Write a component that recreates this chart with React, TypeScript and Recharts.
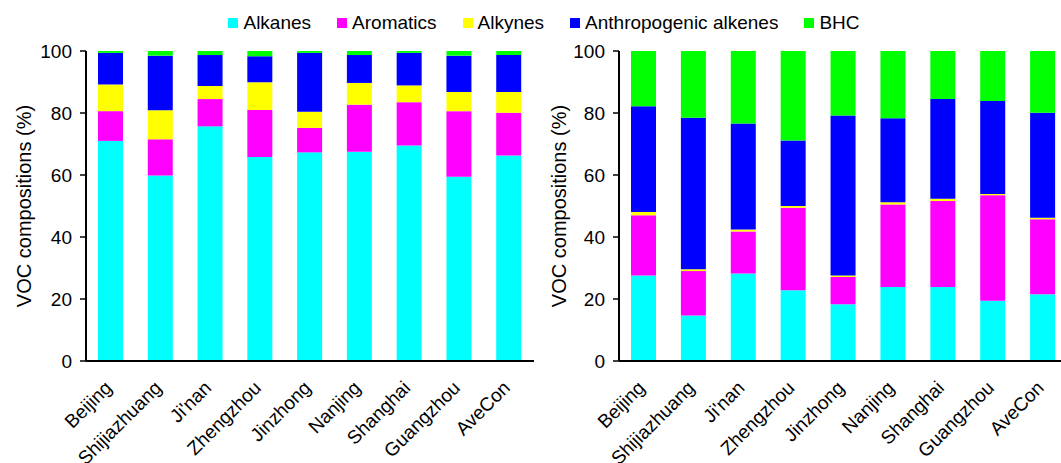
import React from "react";
import { BarChart, Bar, XAxis, YAxis, Legend } from "recharts";

const cities = ["Beijing", "Shijiazhuang", "Ji'nan", "Zhengzhou", "Jinzhong", "Nanjing", "Shanghai", "Guangzhou", "AveCon"];

const seriesNames = ["Alkanes", "Aromatics", "Alkynes", "Anthropogenic alkenes", "BHC"];
const seriesKeys = ["alkanes", "aromatics", "alkynes", "alkenes", "bhc"];
const seriesColors = ["#00FFFF", "#FF00FF", "#FFFF00", "#0000FF", "#00FF00"];

// Left panel
const alkanesA = [71.0, 59.8, 75.7, 65.8, 67.3, 67.5, 69.5, 59.4, 66.3];
const aromaticsA = [9.6, 11.7, 8.8, 15.2, 7.9, 15.2, 14.0, 21.2, 13.8];
const alkynesA = [8.6, 9.4, 4.2, 8.9, 5.2, 7.0, 5.4, 6.2, 6.7];
const alkenesA = [10.2, 17.6, 10.0, 8.4, 19.0, 9.0, 10.5, 11.7, 11.9];
const bhcA = [0.6, 1.5, 1.3, 1.7, 0.6, 1.3, 0.6, 1.5, 1.3];

// Right panel
const alkanesB = [27.6, 14.7, 28.2, 22.8, 18.3, 23.9, 23.9, 19.4, 21.5];
const aromaticsB = [19.4, 14.3, 13.6, 26.6, 8.8, 26.6, 27.7, 34.1, 24.2];
const alkynesB = [1.1, 0.6, 0.6, 0.6, 0.5, 0.7, 0.7, 0.4, 0.5];
const alkenesB = [34.1, 48.9, 34.2, 21.1, 51.6, 27.1, 32.2, 30.0, 33.9];
const bhcB = [17.8, 21.5, 23.4, 28.9, 20.8, 21.7, 15.5, 16.1, 19.9];

const yTicks = [0, 20, 40, 60, 80, 100];
const yLabel = "VOC compositions (%)";

const FONT = '"Liberation Sans", Arial, sans-serif';

const build = (a: number[], b: number[], c: number[], d: number[], e: number[]) =>
  cities.map((city, i) => ({ city, alkanes: a[i], aromatics: b[i], alkynes: c[i], alkenes: d[i], bhc: e[i] }));

const dataA = build(alkanesA, aromaticsA, alkynesA, alkenesA, bhcA);
const dataB = build(alkanesB, aromaticsB, alkynesB, alkenesB, bhcB);

const XTick = (props: any) => {
  const { x, y, payload } = props;
  return (
    <g transform={`translate(${x + 2},${y + 20}) rotate(-45)`}>
      <text x={0} y={0} textAnchor="end" fontSize={19} fill="#000" fontFamily={FONT}>
        {payload.value}
      </text>
    </g>
  );
};

const makeYLabel = (dxShift: number) => (props: any) => {
  const vb = props.viewBox || {};
  const cx = (vb.x ?? 0) + dxShift;
  const cy = (vb.y ?? 0) + (vb.height ?? 0) / 2;
  return (
    <text
      x={cx}
      y={cy}
      transform={`rotate(-90, ${cx}, ${cy})`}
      textAnchor="middle"
      dominantBaseline="central"
      fontSize={20}
      fill="#000"
      fontFamily={FONT}
    >
      {yLabel}
    </text>
  );
};

const LegendContent = () => (
  <div
    style={{
      display: "flex",
      justifyContent: "center",
      alignItems: "center",
      gap: 26,
      fontFamily: FONT,
      fontSize: 19,
      color: "#000",
    }}
  >
    {seriesNames.map((n, i) => (
      <div key={n} style={{ display: "flex", alignItems: "center" }}>
        <span style={{ display: "inline-block", width: 10, height: 10, background: seriesColors[i], marginRight: 5 }} />
        <span>{n}</span>
      </div>
    ))}
  </div>
);

const Panel = ({ data, width, showLegend, labelShift }: any) => (
  <BarChart
    width={width}
    height={463}
    data={data}
    margin={{ top: 51, right: 6, left: 26, bottom: 22 }}
    barCategoryGap="50%"
  >
    <XAxis
      dataKey="city"
      height={80}
      interval={0}
      tickLine={false}
      tick={<XTick />}
      axisLine={{ stroke: "#000", strokeWidth: 2 }}
    />
    <XAxis xAxisId="top" orientation="top" height={0} tick={false} tickLine={false} axisLine={{ stroke: "#333", strokeWidth: 1.5 }} />
    <YAxis
      domain={[0, 100]}
      ticks={yTicks}
      width={60}
      tickSize={6}
      tickMargin={8}
      interval={0}
      tick={{ fontSize: 19, fill: "#000", fontFamily: FONT }}
      tickLine={{ stroke: "#000", strokeWidth: 1.5 }}
      axisLine={{ stroke: "#000", strokeWidth: 2 }}
      label={makeYLabel(labelShift)}
    />
    <YAxis yAxisId="right" orientation="right" width={0} tick={false} tickLine={false} axisLine={{ stroke: "#333", strokeWidth: 1.5 }} />
    {showLegend && (
      <Legend
        verticalAlign="middle"
        align="center"
        layout="horizontal"
        content={<LegendContent />}
        wrapperStyle={{ top: 12, left: -4, width: 1096, height: 24 }}
      />
    )}
    {seriesKeys.map((k, i) => (
      <Bar
        key={k}
        dataKey={k}
        name={seriesNames[i]}
        stackId="s"
        fill={seriesColors[i]}
        barSize={25}
        isAnimationActive={false}
      />
    ))}
  </BarChart>
);

export default function App() {
  return (
    <div
      style={{
        position: "absolute",
        left: 0,
        top: 0,
        width: 1061,
        height: 463,
        overflow: "hidden",
        background: "#fff",
        fontFamily: FONT,
      }}
    >
      <div style={{ position: "absolute", left: 533, top: 0 }}>
        <Panel data={dataB} width={541} showLegend={false} labelShift={0} />
      </div>
      <div style={{ position: "absolute", left: 0, top: 0 }}>
        <Panel data={dataA} width={540} showLegend={true} labelShift={-2} />
      </div>
    </div>
  );
}
